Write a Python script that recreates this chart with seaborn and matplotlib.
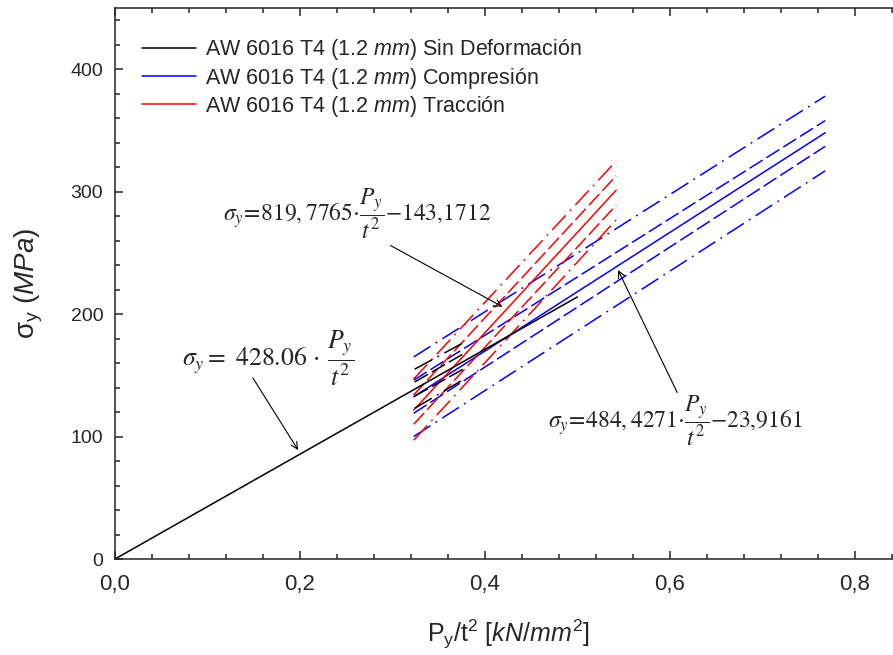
import pandas as pd
import seaborn as sns
import matplotlib.pyplot as plt
from matplotlib.lines import Line2D
from matplotlib.ticker import MultipleLocator, FuncFormatter

# series and regression lines (line end points)
series = ["Sin Deformación", "Compresión", "Tracción"]

fit_x0 = [0.0, 0.323, 0.323]
fit_x1 = [0.50, 0.768, 0.542]
fit_y0 = [0.0, 132.5, 121.6]
fit_y1 = [214.0, 348.1, 301.2]

band_x0 = [0.324, 0.323, 0.323]
band_x1 = [0.380, 0.768, 0.542]
conf_lo_y0 = [133.0, 119.0, 110.0]
conf_lo_y1 = [156.5, 337.0, 289.0]
conf_hi_y0 = [144.5, 146.0, 134.0]
conf_hi_y1 = [169.0, 358.0, 313.0]
pred_lo_y0 = [123.0, 100.0, 97.0]
pred_lo_y1 = [148.0, 317.0, 277.0]
pred_hi_y0 = [155.0, 165.0, 147.0]
pred_hi_y1 = [178.0, 378.0, 325.0]

equations = [
    r"$\sigma_y = \ 428.06\,\cdot\,\dfrac{P_y}{t^2}$",
    r"$\sigma_y\!=\!484,4271{\cdot}\dfrac{P_y}{t^2}{-}23{,}9161$",
    r"$\sigma_y\!=\!819,7765{\cdot}\dfrac{P_y}{t^2}{-}143{,}1712$",
]

rows = []
for i, s in enumerate(series):
    rows += [(s, "fit", "fit", fit_x0[i], fit_y0[i]), (s, "fit", "fit", fit_x1[i], fit_y1[i])]
    for name, kind, y0, y1 in [("conf_lo", "conf", conf_lo_y0, conf_lo_y1),
                               ("conf_hi", "conf", conf_hi_y0, conf_hi_y1),
                               ("pred_lo", "pred", pred_lo_y0, pred_lo_y1),
                               ("pred_hi", "pred", pred_hi_y0, pred_hi_y1)]:
        rows += [(s, kind, name, band_x0[i], y0[i]), (s, kind, name, band_x1[i], y1[i])]
df = pd.DataFrame(rows, columns=["serie", "tipo", "linea", "x", "y"])

sns.set_theme(style="ticks")
plt.rcParams["font.family"] = ["Liberation Sans", "DejaVu Sans"]
plt.rcParams["mathtext.fontset"] = "custom"
plt.rcParams["mathtext.rm"] = "Liberation Sans"
plt.rcParams["mathtext.it"] = "Liberation Sans:italic"
plt.rcParams["axes.linewidth"] = 1.1

colors = {"Sin Deformación": "black", "Compresión": "blue", "Tracción": "red"}
dash_map = {"fit": "", "conf": (10, 3), "pred": (13, 4, 1.2, 4)}

fig = plt.figure(figsize=(8.93, 6.55), dpi=100)
ax = fig.add_axes([115 / 893, 96 / 655, 786 / 893, 551 / 655])

for s in ["Compresión", "Tracción", "Sin Deformación"]:
    sns.lineplot(
        data=df[df["serie"] == s], x="x", y="y",
        style="tipo", style_order=["fit", "conf", "pred"],
        units="linea", estimator=None, dashes=dash_map,
        color=colors[s], linewidth=1.1, legend=False, ax=ax
    )

ax.set_xlim(0, 0.85)
ax.set_ylim(0, 450)
ax.spines["right"].set_visible(False)
ax.xaxis.set_major_locator(MultipleLocator(0.2))
ax.xaxis.set_minor_locator(MultipleLocator(0.04))
ax.yaxis.set_major_locator(MultipleLocator(100))
ax.yaxis.set_minor_locator(MultipleLocator(20))
ax.xaxis.set_major_formatter(FuncFormatter(lambda v, p: f"{v:.1f}".replace(".", ",")))
ax.tick_params(which="both", direction="in", top=True, right=False, width=1.1)
ax.tick_params(which="major", length=6)
ax.tick_params(which="minor", length=3.5)
ax.tick_params(axis="y", labelsize=14, pad=8.5)
ax.tick_params(axis="x", labelsize=16, pad=11)

ax.set_xlabel(r"P$_\mathregular{y}$/t$^\mathregular{2}$ [$kN/mm^2$]", fontsize=18, labelpad=16)
ax.set_ylabel(r"σ$_\mathregular{y}$ ($MPa$)", fontsize=20, labelpad=18)

handles = [Line2D([], [], color=colors[s], lw=1.1) for s in series]
labels = [r"AW 6016 T4 (1.2 $mm)$ " + s for s in series]
ax.legend(handles, labels, loc="upper left", bbox_to_anchor=(0.01, 0.982),
          frameon=False, fontsize=15.5, handlelength=2.5, handletextpad=0.4,
          labelspacing=0.15)

# equations and arrows
ax.text(0.166, 164, equations[0], fontsize=18.5, ha="center", va="center", math_fontfamily="stix")
ax.text(0.606, 113, equations[1], fontsize=17, ha="center", va="center", math_fontfamily="stix")
ax.text(0.262, 282, equations[2], fontsize=17, ha="center", va="center", math_fontfamily="stix")
arrow = dict(arrowstyle="->", color="black", lw=0.8, shrinkA=0, shrinkB=0)
ax.annotate("", xy=(0.198, 89), xytext=(0.149, 148), arrowprops=arrow)
ax.annotate("", xy=(0.544, 236), xytext=(0.608, 136), arrowprops=arrow)
ax.annotate("", xy=(0.419, 206), xytext=(0.298, 256), arrowprops=arrow)

plt.savefig("out.png", dpi=100)
plt.close()
